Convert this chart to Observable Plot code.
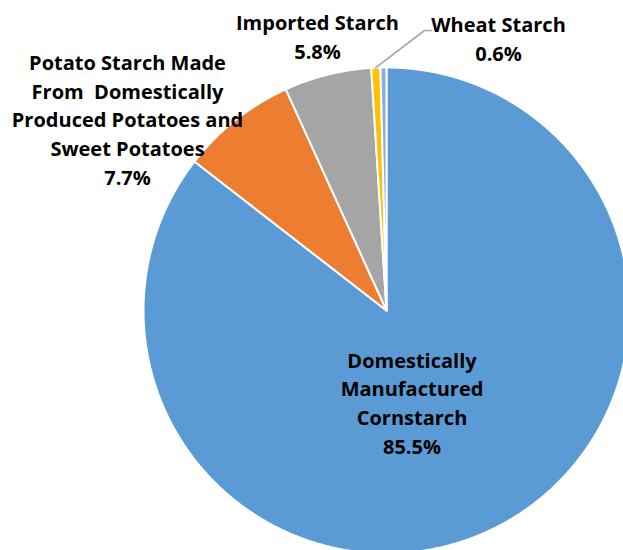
<!DOCTYPE html>
<html>
<head>
<meta charset="utf-8">
<script src="https://cdn.jsdelivr.net/npm/d3@7"></script>
<script src="https://cdn.jsdelivr.net/npm/@observablehq/plot@0.6"></script>
<style>
  html, body { margin: 0; padding: 0; background: #ffffff; }
  #chart svg { display: block; }
</style>
</head>
<body>
<div id="chart"></div>
<script>
// ---------- data ----------
const categories = [
  "Domestically Manufactured Cornstarch",
  "Potato Starch Made From  Domestically Produced Potatoes and Sweet Potatoes",
  "Imported Starch",
  "Wheat Starch",
  "Other"
];
const shares = [85.5, 7.7, 5.8, 0.6, 0.4];
const labelLines = [
  ["Domestically", "Manufactured", "Cornstarch"],
  ["Potato Starch Made", "From  Domestically", "Produced Potatoes and", "Sweet Potatoes"],
  ["Imported Starch"],
  ["Wheat Starch"],
  null
];
const sliceColors = ["#5B9BD5", "#ED7D31", "#A5A5A5", "#FFC000", "#8FAADC"];

// ---------- layout (pixels) ----------
const W = 623, H = 550;
const CX = 386, CY = 310, R = 243;
// anchor = baseline of last label line (centered)
const labelAnchor = [[411.5, 453], [127, 184], [317, 58], [498, 60], null];
const leaderElbow = [[424, 30], [431, 30]];
const FONT = 20, LINE = 28.6;

const px = (x) => (x - CX) / R;
const py = (y) => (CY - y) / R;

const rows = categories.map((name, i) => ({name, share: shares[i], i}));
const arcs = d3.pie().sort(null).value(d => d.share)(rows);

// slice outlines computed from pie angles
const points = [];
const step = Math.PI / 720;
for (const a of arcs) {
  const name = a.data.name;
  points.push({name, x: 0, y: 0});
  const n = Math.max(2, Math.ceil((a.endAngle - a.startAngle) / step));
  for (let k = 0; k <= n; k++) {
    const t = a.startAngle + (a.endAngle - a.startAngle) * k / n;
    points.push({name, x: Math.sin(t), y: Math.cos(t)});
  }
}

const labels = rows
  .filter(d => labelLines[d.i])
  .map(d => ({
    text: [...labelLines[d.i], `${d.share.toFixed(1)}%`].join("\n"),
    x: px(labelAnchor[d.i][0]),
    y: py(labelAnchor[d.i][1])
  }));

// leader line for the wheat slice
const wheat = arcs[3];
const mid = (wheat.startAngle + wheat.endAngle) / 2;
const leader = [
  {x: Math.sin(mid), y: Math.cos(mid)},
  ...leaderElbow.map(([x, y]) => ({x: px(x), y: py(y)}))
];

const chart = Plot.plot({
  width: W,
  height: H,
  margin: 0,
  style: {background: "#ffffff", overflow: "hidden"},
  x: {domain: [-1, 1], range: [CX - R, CX + R], axis: null},
  y: {domain: [-1, 1], range: [CY + R, CY - R], axis: null},
  color: {domain: categories, range: sliceColors},
  marks: [
    Plot.line(points, {
      x: "x", y: "y", z: "name", fill: "name",
      stroke: "#ffffff", strokeWidth: 2, strokeLinejoin: "round",
      curve: "linear-closed"
    }),
    Plot.line(leader, {x: "x", y: "y", stroke: "#A6A6A6", strokeWidth: 1.6}),
    Plot.text(labels, {
      x: "x", y: "y", text: "text",
      fill: "#000000", fontSize: FONT, fontWeight: "bold", fontFamily: "Open Sans",
      textAnchor: "middle", lineAnchor: "bottom", lineHeight: LINE / FONT
    })
  ]
});
document.getElementById("chart").appendChild(chart);
</script>
</body>
</html>
